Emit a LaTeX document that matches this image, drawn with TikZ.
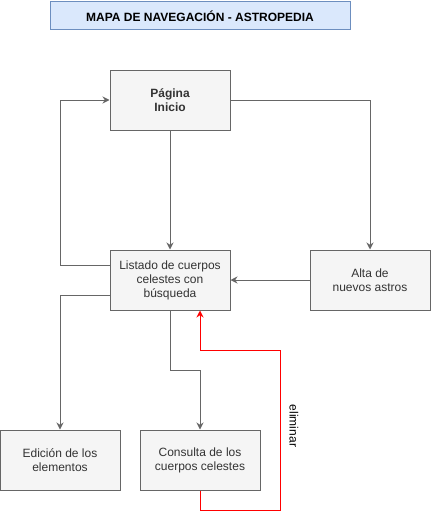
\documentclass[tikz,border=0pt]{standalone}
\usepackage{fontspec}
\setmainfont{Liberation Sans}
\usetikzlibrary{arrows.meta}

\definecolor{boxfill}{HTML}{F5F5F5}
\definecolor{boxline}{HTML}{666666}
\definecolor{boxtext}{HTML}{333333}
\definecolor{titlefill}{HTML}{DAE8FC}
\definecolor{titleline}{HTML}{6C8EBF}

\tikzset{
  page/.style={draw=boxline, fill=boxfill, text=boxtext, line width=1pt,
    minimum width=120pt, minimum height=60pt, inner sep=0pt, align=center,
    font=\fontsize{12}{14}\selectfont},
  link/.style={draw=boxline, line width=1pt, -{Stealth[length=7pt,width=7pt]}},
  dellink/.style={draw=red, line width=1pt, -{Stealth[length=7pt,width=7pt]}}
}

\begin{document}
\begin{tikzpicture}[x=1pt,y=-1pt]

\useasboundingbox (0,0) rectangle (431,519);

% Title
\node[draw=titleline, fill=titlefill, line width=1pt, minimum width=300pt,
  minimum height=28pt, inner sep=0pt, font=\bfseries\fontsize{12}{14}\selectfont]
  (title) at (200,16) {MAPA DE NAVEGACIÓN - ASTROPEDIA};

% Pages
\node[page, font=\bfseries\fontsize{12}{14}\selectfont] (inicio) at (170,100) {Página\\Inicio};
\node[page] (listado) at (170,280) {Listado de cuerpos\\celestes con\\búsqueda};
\node[page] (alta) at (370,280) {Alta de\\nuevos astros};
\node[page] (edicion) at (60,460) {Edición de los\\elementos};
\node[page] (consulta) at (200,460) {Consulta de los\\cuerpos celestes};

% Navigation
\draw[link] (inicio.south) -- (listado.north);
\draw[link] (inicio.east) -| (alta.north);
\draw[link] (alta.west) -- (listado.east);
\draw[link] ([yshift=15pt]listado.west) -| (60,100) -- (inicio.west);
\draw[link] ([yshift=-15pt]listado.west) -| (edicion.north);
\draw[link] (listado.south) -- (170,370) -| (consulta.north);

% Delete
\draw[dellink] (consulta.south) -- (200,510) -| (280,350) -| ([xshift=30pt]listado.south);
\node[rotate=-90, font=\fontsize{12}{14}\selectfont] (eliminar) at (294,426) {eliminar};

\end{tikzpicture}
\end{document}
